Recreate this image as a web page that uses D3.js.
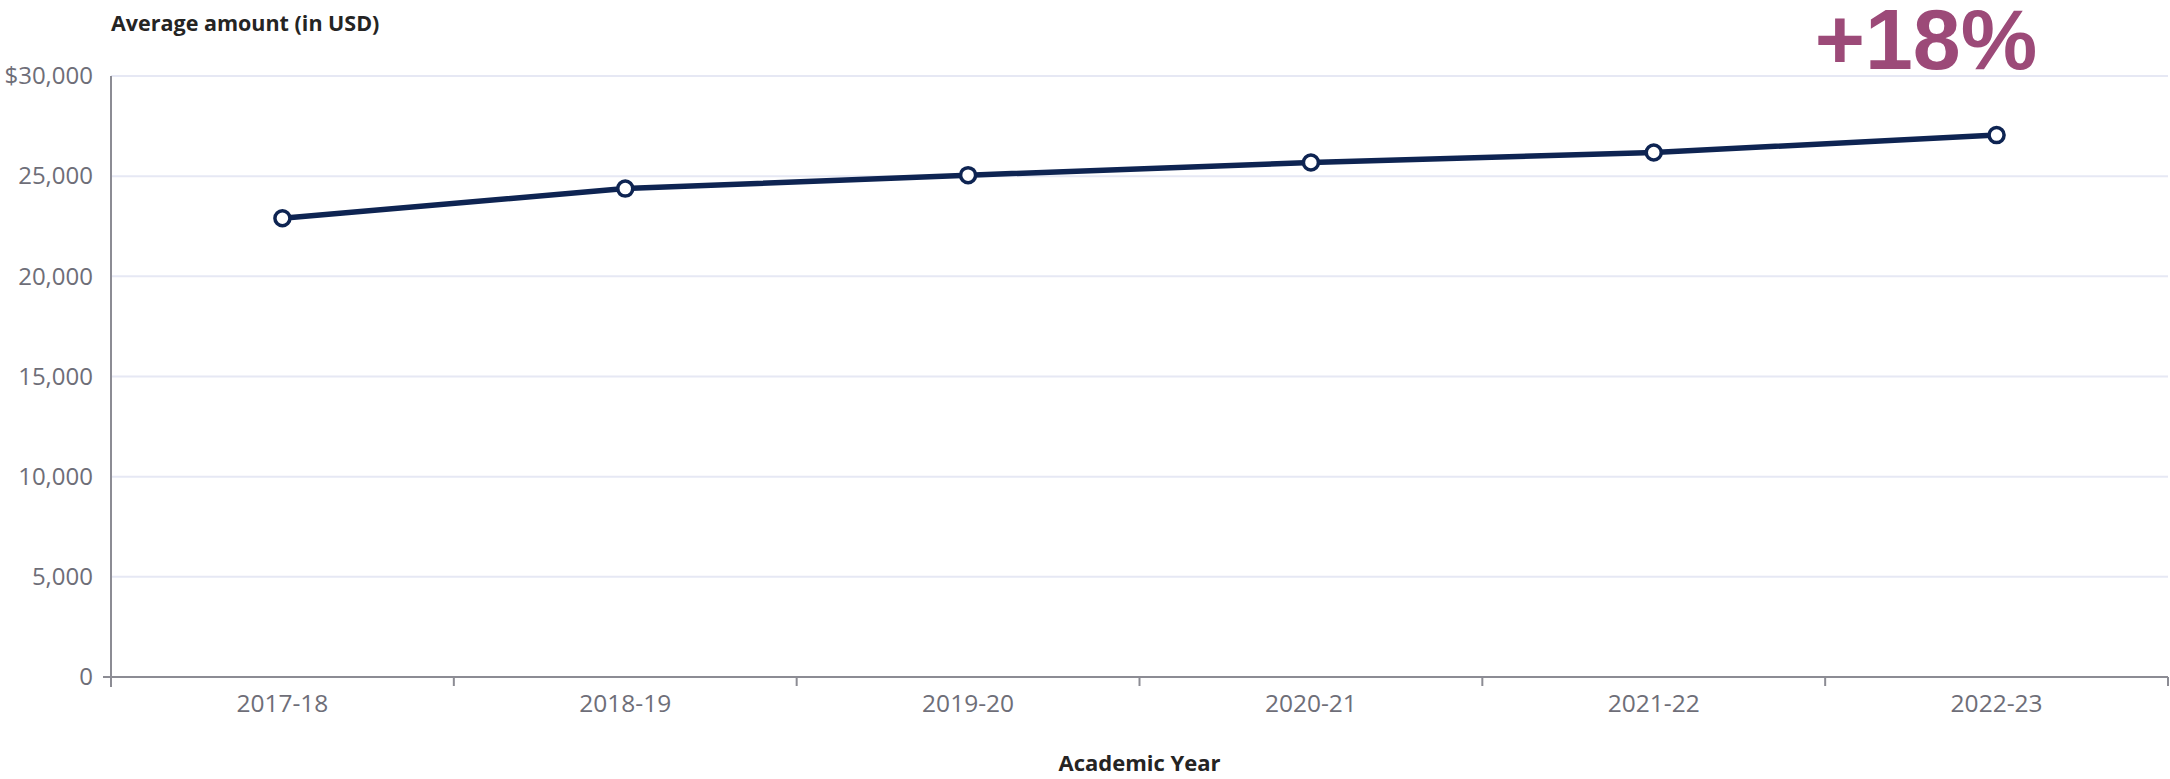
<!DOCTYPE html>
<html>
<head>
<meta charset="utf-8">
<script src="https://cdn.jsdelivr.net/npm/d3@7"></script>
<style>
  html, body { margin: 0; padding: 0; background: #ffffff; }
  svg { display: block; }
</style>
</head>
<body>
<svg id="chart" width="2170" height="779"></svg>
<script>
const categories = ["2017-18", "2018-19", "2019-20", "2020-21", "2021-22", "2022-23"];
const averageAmount = [22900, 24380, 25050, 25680, 26180, 27050];
const yTicks = [0, 5000, 10000, 15000, 20000, 25000, 30000];
const yTitle = "Average amount (in USD)";
const xTitle = "Academic Year";
const callout = "+18%";

const W = 2170, H = 779;
const m = { left: 111, right: 2, top: 76, bottom: 102 };
const svg = d3.select("#chart");

const x = d3.scaleBand().domain(categories).range([m.left, W - m.right]).padding(0);
const y = d3.scaleLinear().domain([0, 30000]).range([H - m.bottom, m.top]);

const font = "'Open Sans', 'Noto Sans', sans-serif";

// gridlines
svg.append("g")
  .selectAll("line").data(yTicks.filter(d => d > 0)).join("line")
  .attr("x1", m.left).attr("x2", W - m.right)
  .attr("y1", d => y(d)).attr("y2", d => y(d))
  .attr("stroke", "#e6e8f4").attr("stroke-width", 2);

// y axis
const yAxis = svg.append("g").attr("transform", `translate(${m.left},0)`)
  .call(d3.axisLeft(y).tickValues(yTicks).tickSize(0).tickPadding(18)
    .tickFormat(d => d === 30000 ? "$" + d3.format(",")(d) : d3.format(",")(d)));
yAxis.select(".domain").attr("stroke", "#8c8c94").attr("stroke-width", 2)
  .attr("d", `M0,${y(30000)}V${y(0) + 10}`);
yAxis.selectAll("text").attr("font-family", font).attr("font-size", 24)
  .attr("fill", "#6e6e78");

// x axis
const xAxis = svg.append("g").attr("transform", `translate(0,${y(0)})`)
  .call(d3.axisBottom(x).tickSize(0).tickPadding(13));
xAxis.select(".domain").attr("stroke", "#8c8c94").attr("stroke-width", 2)
  .attr("d", `M${m.left - 8},0H${W - m.right}`);
xAxis.selectAll("text").attr("font-family", font).attr("font-size", 24.5)
  .attr("fill", "#6e6e78").attr("dy", "0.9em");
// boundary ticks
const bounds = categories.map(c => x(c)).concat([x(categories[categories.length - 1]) + x.bandwidth()]);
xAxis.append("g").selectAll("line").data(bounds.slice(1)).join("line")
  .attr("x1", d => d).attr("x2", d => d).attr("y1", 0).attr("y2", 9)
  .attr("stroke", "#8c8c94").attr("stroke-width", 2);

// line
const cx = d => x(d) + x.bandwidth() / 2;
const line = d3.line().x((d, i) => cx(categories[i])).y(d => y(d));
svg.append("path").datum(averageAmount)
  .attr("d", line).attr("fill", "none")
  .attr("stroke", "#0e2452").attr("stroke-width", 5.5)
  .attr("stroke-linejoin", "round");

svg.append("g").selectAll("circle").data(averageAmount).join("circle")
  .attr("cx", (d, i) => cx(categories[i])).attr("cy", d => y(d))
  .attr("r", 7.5).attr("fill", "#ffffff")
  .attr("stroke", "#0e2452").attr("stroke-width", 3.5);

// titles
svg.append("text").attr("x", 111).attr("y", 31)
  .attr("font-family", font).attr("font-size", 21.5).attr("font-weight", 700)
  .attr("fill", "#252423").text(yTitle);

svg.append("text").attr("x", (m.left + W - m.right) / 2).attr("y", 771)
  .attr("text-anchor", "middle")
  .attr("font-family", font).attr("font-size", 22).attr("font-weight", 700)
  .attr("fill", "#252423").text(xTitle);

svg.append("text").attr("x", 1926).attr("y", 69)
  .attr("text-anchor", "middle")
  .attr("font-family", "'Liberation Sans', Arial, sans-serif").attr("font-size", 86).attr("font-weight", 700)
  .attr("fill", "#9c4a78").text(callout);
</script>
</body>
</html>
